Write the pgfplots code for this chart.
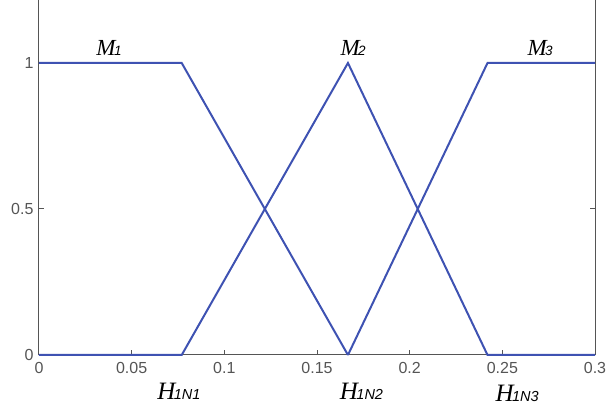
\documentclass[border=0pt]{standalone}
\usepackage{pgfplots}
\pgfplotsset{compat=1.18}
\usepackage{fontspec}
\setmainfont{Liberation Sans}
\newfontfamily\serifit{Liberation Serif}
\newfontfamily\sansit{Liberation Sans}
\definecolor{lineblue}{RGB}{62,82,178}
\definecolor{axgray}{RGB}{85,85,85}
\newcommand{\lab}[2]{{\serifit\itshape\fontsize{25}{26}\selectfont #1\kern-1.5pt{\sansit\itshape\fontsize{14.5}{15}\selectfont #2}}}
\newcommand{\labm}[2]{{\serifit\itshape\fontsize{23}{24}\selectfont #1\kern-1.5pt{\sansit\itshape\fontsize{13.5}{14}\selectfont #2}}}
\begin{document}
\begin{tikzpicture}
\path[use as bounding box] (-39pt,-54pt) rectangle (569pt,355pt);
\begin{axis}[
  at={(0,0)}, anchor=south west,
  scale only axis, width=556pt, height=355pt,
  xmin=0, xmax=0.3, ymin=0, ymax=1.2157,
  axis x line*=bottom, axis y line*=box,
  axis line style={axgray, line width=1pt},
  tick style={axgray, line width=1pt},
  major tick length=5pt,
  tick align=inside,
  xtick={0,0.05,0.1,0.15,0.2,0.25,0.3},
  xticklabels={0,0.05,0.1,0.15,0.2,0.25,0.3},
  ytick={0,0.5,1},
  yticklabels={0,0.5,1},
  tick label style={font=\fontsize{16}{18}\selectfont, text=axgray},
  xticklabel style={yshift=-4pt},
  yticklabel style={xshift=-2pt},
  clip=false,
]
\addplot[lineblue, line width=2pt] coordinates {(0,1) (0.077,1) (0.1667,0)};
\addplot[lineblue, line width=2pt] coordinates {(0,0) (0.077,0) (0.1667,1) (0.242,0) (0.3,0)};
\addplot[lineblue, line width=2pt] coordinates {(0.1667,0) (0.242,1) (0.3,1)};
\node[fill=white, inner sep=1pt] at (axis cs:0.0378,1.051) {\labm{M}{1}};
\node[fill=white, inner sep=1pt] at (axis cs:0.1695,1.051) {\labm{M}{2}};
\node[fill=white, inner sep=1pt] at (axis cs:0.2704,1.051) {\labm{M}{3}};
\node at (axis cs:0.0755,-0.125) {\lab{H}{1N1}};
\node at (axis cs:0.174,-0.125) {\lab{H}{1N2}};
\node at (axis cs:0.258,-0.132) {\lab{H}{1N3}};
\end{axis}
\end{tikzpicture}
\end{document}
